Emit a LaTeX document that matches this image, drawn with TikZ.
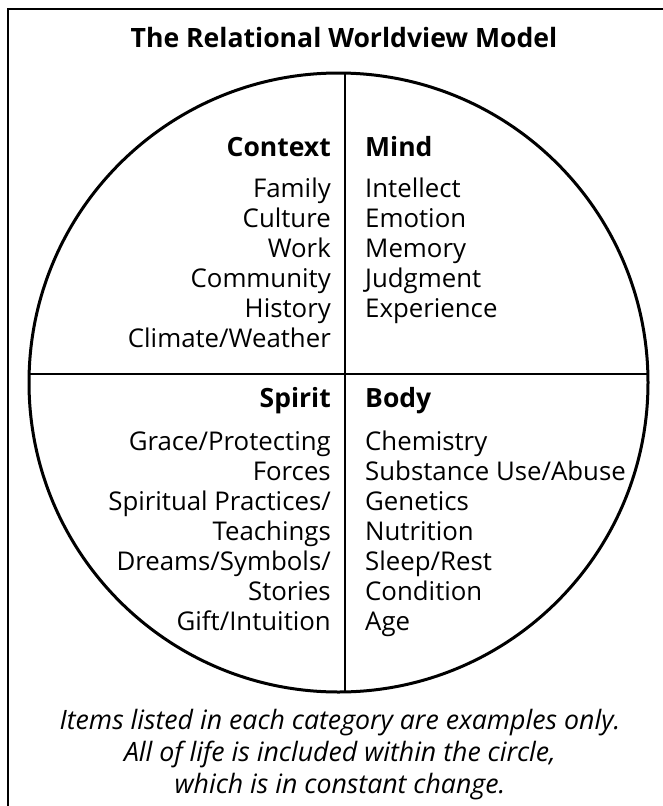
\documentclass[tikz,border=0pt]{standalone}
\usepackage{fontspec}
\setmainfont{Open Sans}
\usetikzlibrary{positioning}

\tikzset{
  heading/.style={font=\fontsize{26.5}{30}\selectfont\bfseries, inner sep=0pt},
  item/.style={font=\fontsize{25.8}{30}\selectfont, inner sep=0pt},
  note/.style={font=\fontsize{26.7}{30}\selectfont\itshape, inner sep=0pt, anchor=base},
}

\begin{document}
\begin{tikzpicture}[x=1pt,y=-1pt]
  \useasboundingbox (0,0) rectangle (663,806);

  % Frame, open to the right and the bottom
  \draw[line width=2pt] (8,830) -- (8,9) -- (680,9);

  % Title
  \node[font=\fontsize{26.6}{30}\selectfont\bfseries, inner sep=0pt, anchor=base]
    (title) at (344,47) {The Relational Worldview Model};

  % The circle and its two dividing lines
  \draw[line width=3pt] (338.5,382.5) circle (309.5pt);
  \draw[line width=2pt] (345,73.1) -- (345,691.9);
  \draw[line width=2pt] (29.1,374) -- (647.9,374);

  % Headings
  \node[heading, anchor=base east] (context) at (331,156) {Context};
  \node[heading, anchor=base west] (mind)    at (365,156) {Mind};
  \node[heading, anchor=base east] (spirit)  at (331,407) {Spirit};
  \node[heading, anchor=base west] (body)    at (365,407) {Body};

  % Items in each quarter
  \foreach \t [count=\i] in {Family,Culture,Work,Community,History,Climate/Weather}
    \node[item, anchor=base east] (context-\i) at (331,167+30*\i) {\t};
  \foreach \t [count=\i] in {Intellect,Emotion,Memory,Judgment,Experience}
    \node[item, anchor=base west] (mind-\i) at (365,167+30*\i) {\t};
  \foreach \t [count=\i] in {Grace/Protecting,Forces,Spiritual Practices/,Teachings,Dreams/Symbols/,Stories,Gift/Intuition}
    \node[item, anchor=base east] (spirit-\i) at (331,420+30*\i) {\t};
  \foreach \t [count=\i] in {Chemistry,Substance Use/Abuse,Genetics,Nutrition,Sleep/Rest,Condition,Age}
    \node[item, anchor=base west] (body-\i) at (365,420+30*\i) {\t};

  % Note under the circle
  \node[note] (note-1) at (340,729) {Items listed in each category are examples only.};
  \node[note] (note-2) at (340,761) {All of life is included within the circle,};
  \node[note] (note-3) at (340,793) {which is in constant change.};
\end{tikzpicture}
\end{document}
